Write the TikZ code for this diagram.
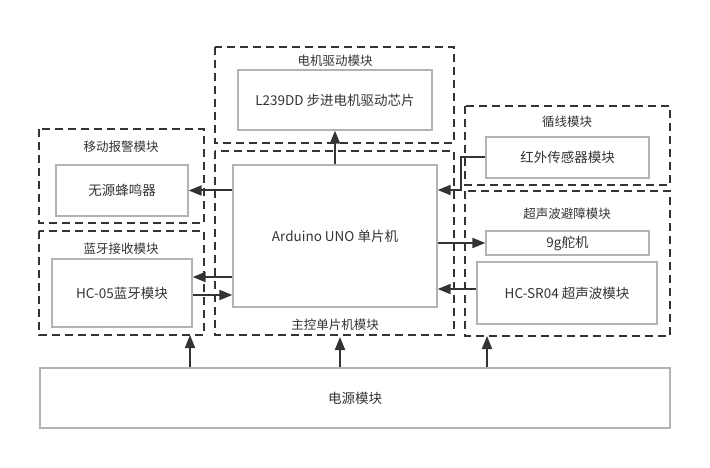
\documentclass[tikz,border=0pt]{standalone}
\usepackage{fontspec}
\setmainfont{Noto Sans CJK SC}
\usetikzlibrary{arrows.meta}
\definecolor{dk}{HTML}{333333}
\definecolor{gr}{HTML}{B3B3B3}
\tikzset{
  outerbox/.style={draw=dk, line width=2pt, dash pattern=on 8pt off 5pt, minimum width=#1},
  innerbox/.style={draw=gr, line width=1.3pt, text=dk, font=\fontsize{13.5}{16}\selectfont},
  title/.style={text=dk, font=\fontsize{12.5}{15}\selectfont, inner sep=0pt},
  arr/.style={draw=dk, line width=2pt, -{Triangle[length=13pt,width=10pt]}}
}
\begin{document}
\begin{tikzpicture}[x=1pt,y=-1pt]
\useasboundingbox (0,0) rectangle (710,468);
% dashed groups
\draw[outerbox=0pt] (215,47) rectangle (454,143);
\draw[outerbox=0pt] (215,151) rectangle (454,335);
\draw[outerbox=0pt] (39,129) rectangle (204,223);
\draw[outerbox=0pt] (39,231) rectangle (204,335);
\draw[outerbox=0pt] (465,106) rectangle (670,185);
\draw[outerbox=0pt] (465,191) rectangle (670,336);
% group anchors
\coordinate (mainS) at (340,337);
\coordinate (btS) at (190,335);
\coordinate (usS) at (487,336);
% titles
\node[title] (tmotor) at (335,61) {电机驱动模块};
\node[title] (tmain) at (335,325) {主控单片机模块};
\node[title] (talarm) at (121,147) {移动报警模块};
\node[title] (tbt) at (121,249) {蓝牙接收模块};
\node[title] (tline) at (567,122) {循线模块};
\node[title] (tus) at (567,214) {超声波避障模块};
% inner boxes
\node[innerbox, minimum width=194pt, minimum height=60pt] (l239) at (335,100) {L239DD 步进电机驱动芯片};
\node[innerbox, minimum width=204pt, minimum height=142pt] (ard) at (335,236) {Arduino UNO 单片机};
\node[innerbox, minimum width=132pt, minimum height=51pt] (buz) at (122,190.5) {无源蜂鸣器};
\node[innerbox, minimum width=140pt, minimum height=68pt] (hc) at (122,293) {HC-05蓝牙模块};
\node[innerbox, minimum width=163pt, minimum height=41pt] (sen) at (567.5,157.5) {红外传感器模块};
\node[innerbox, minimum width=163pt, minimum height=24pt, inner sep=0pt] (srv) at (567.5,243) {9g舵机};
\node[innerbox, minimum width=180pt, minimum height=62pt] (hcs) at (567,293) {HC-SR04 超声波模块};
\node[innerbox, minimum width=630pt, minimum height=60pt] (pw) at (355,398) {电源模块};
% connectors
\draw[arr] (ard.north) -- (l239.south);
\draw[arr] (ard.west |- buz.east) -- (buz.east);
\draw[arr] (ard.west |- 0,277) -- ([yshift=16pt]hc.east);
\draw[arr] ([yshift=-2pt]hc.east) -- (ard.west |- 0,295);
\draw[arr] (sen.west) -- ++(-24,0) |- ([yshift=46pt]ard.east);
\draw[arr] (ard.east |- srv.west) -- (srv.west);
\draw[arr] ([yshift=4pt]hcs.west) -- (ard.east |- 0,289);
\draw[arr] (pw.north -| btS) -- (btS);
\draw[arr] (pw.north -| mainS) -- (mainS);
\draw[arr] (pw.north -| usS) -- (usS);
\end{tikzpicture}
\end{document}
